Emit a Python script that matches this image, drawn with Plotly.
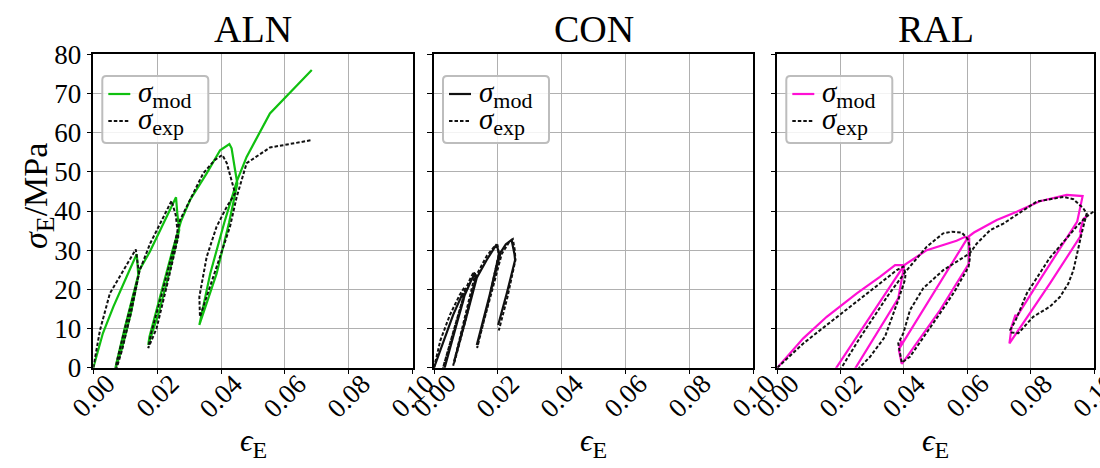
import plotly.graph_objects as go

# ---- strain / stress data (eps in -, sigma in MPa) ----
aln_mod_eps = [0, 0.0030, 0.0063, 0.0094, 0.0115, 0.0136, 0.0141, 0.0118, 0.0090, 0.0068,
               0.0072, 0.0098, 0.0125, 0.0145, 0.0177, 0.0219, 0.0259, 0.0263, 0.0269, 0.0240,
               0.0205, 0.0172, 0.0176, 0.0212, 0.0248, 0.0275, 0.0303, 0.0355, 0.0397, 0.0426,
               0.0433, 0.0444, 0.0451, 0.0425, 0.0386, 0.0332, 0.0366, 0.0410, 0.0449, 0.0480,
               0.0553, 0.0684]
aln_mod_sig = [0, 8.8, 15.6, 21.5, 25.2, 29.0, 23.5, 14.0, 5.0, -0.6,
               1.0, 10.0, 19.0, 25.0, 29.6, 36.8, 43.5, 39.4, 35.1, 25.0,
               14.0, 5.8, 8.0, 19.0, 30.0, 37.5, 42.8, 49.6, 55.5, 57.1,
               56.0, 50.4, 47.0, 37.0, 24.0, 10.9, 24.0, 37.0, 47.5, 53.8,
               64.9, 76.0]

aln_exp_eps = [0, 0.0021, 0.0052, 0.0094, 0.0133, 0.0140, 0.0143, 0.0118, 0.0090, 0.0065,
               0.0075, 0.0102, 0.0130, 0.0146, 0.0178, 0.0219, 0.0245, 0.0258, 0.0266, 0.0232,
               0.0198, 0.0172, 0.0180, 0.0215, 0.0250, 0.0271, 0.0344, 0.0380, 0.0404, 0.0418,
               0.0436, 0.0444, 0.0418, 0.0386, 0.0355, 0.0332, 0.0334, 0.0386, 0.0428, 0.0449,
               0.0480, 0.0553, 0.0620, 0.0684]
aln_exp_sig = [0, 9.6, 19.0, 24.9, 30.2, 26.0, 24.0, 14.0, 4.5, -2.3,
               2.0, 11.0, 20.0, 25.0, 31.7, 38.5, 42.6, 39.0, 33.4, 21.5,
               10.0, 5.0, 8.5, 19.0, 30.0, 37.6, 49.6, 53.0, 54.3, 52.2,
               47.0, 44.5, 41.1, 36.0, 28.3, 18.1, 13.0, 25.8, 36.0, 43.6,
               52.2, 56.2, 57.2, 58.1]

con_mod_eps = [0, 0.0030, 0.0060, 0.0090, 0.0093, 0.0060, 0.0030, 0.0034, 0.0065, 0.0096,
               0.0115, 0.0128, 0.0131, 0.0098, 0.0063, 0.0068, 0.0100, 0.0134, 0.0165, 0.0196,
               0.0204, 0.0170, 0.0134, 0.0138, 0.0175, 0.0209, 0.0225, 0.0243, 0.0252, 0.0254,
               0.0228, 0.0201]
con_mod_sig = [0, 7.0, 13.5, 19.0, 17.5, 8.0, -1.0, 0.0, 9.0, 18.5,
               22.0, 24.1, 22.5, 12.0, 1.5, 2.5, 12.5, 23.0, 27.5, 31.5,
               29.0, 17.0, 5.8, 7.5, 19.0, 29.5, 31.5, 32.6, 29.0, 27.5,
               19.0, 10.9]

con_exp_eps = [0, 0.0020, 0.0050, 0.0080, 0.0095, 0.0097, 0.0060, 0.0022, 0.0028, 0.0062,
               0.0099, 0.0115, 0.0125, 0.0128, 0.0095, 0.0060, 0.0066, 0.0100, 0.0132, 0.0165,
               0.0190, 0.0199, 0.0203, 0.0170, 0.0135, 0.0140, 0.0178, 0.0212, 0.0235, 0.0247,
               0.0253, 0.0255, 0.0230, 0.0203]
con_exp_sig = [0, 7.0, 13.5, 18.5, 20.5, 19.5, 9.0, -1.8, -0.5, 9.5,
               20.0, 23.0, 24.5, 23.5, 12.5, 0.5, 2.0, 12.5, 23.5, 28.5,
               31.0, 31.2, 29.0, 16.5, 5.0, 7.0, 18.5, 29.0, 32.0, 32.8,
               30.0, 27.5, 18.0, 9.5]

ral_mod_eps = [0, 0.0082, 0.0156, 0.0251, 0.0324, 0.0372, 0.0401, 0.0382, 0.0188, 0.0161,
               0.0161, 0.0401, 0.0472, 0.0514, 0.0566, 0.0593, 0.0606, 0.0605, 0.0514, 0.0398,
               0.0393, 0.0384, 0.0392, 0.0386, 0.0603, 0.0621, 0.0693, 0.0756, 0.0829, 0.0914,
               0.0964, 0.0947, 0.0829, 0.0756, 0.0752, 0.0740, 0.0733, 0.0861, 0.0956, 0.0962,
               0.0955, 0.0966, 0.0982]
ral_mod_sig = [0, 7.5, 13.0, 19.0, 23.2, 26.2, 26.2, 17.7, -7.8, -7.8,
               -3.1, 26.2, 30.0, 31.0, 32.4, 33.4, 33.0, 26.6, 14.7, 1.5,
               1.0, 4.5, 7.0, 5.0, 33.4, 34.5, 37.7, 39.8, 42.5, 44.1,
               43.8, 37.3, 22.4, 13.0, 13.5, 10.5, 6.2, 21.5, 33.4, 35.5,
               34.5, 37.9, 39.0]

ral_exp_eps = [0, 0.0082, 0.0156, 0.0251, 0.0324, 0.0377, 0.0398, 0.0405, 0.0403, 0.0382,
               0.0340, 0.0293, 0.0230, 0.0188, 0.0175, 0.0172, 0.0260, 0.0350, 0.0405, 0.0472,
               0.0524, 0.0551, 0.0582, 0.0600, 0.0608, 0.0608, 0.0604, 0.0598, 0.0560, 0.0514,
               0.0460, 0.0419, 0.0393, 0.0382, 0.0390, 0.0398, 0.0419, 0.0461, 0.0524, 0.0608,
               0.0630, 0.0672, 0.0714, 0.0777, 0.0819, 0.0903, 0.0935, 0.0966, 0.0977, 0.0961,
               0.0945, 0.0935, 0.0919, 0.0893, 0.0861, 0.0808, 0.0761, 0.0740, 0.0735, 0.0752,
               0.0788, 0.0860, 0.0945, 0.0975, 0.0998]
ral_exp_sig = [0, 6.2, 10.9, 16.8, 21.5, 24.9, 25.8, 24.0, 22.4, 17.3,
               7.9, 2.8, -2.3, -5.7, -7.0, -4.0, 7.5, 18.5, 24.5, 30.9,
               34.3, 34.7, 34.5, 33.0, 30.9, 27.9, 25.8, 24.9, 19.5, 13.9,
               7.5, 2.8, 1.3, 6.2, 7.5, 8.8, 14.7, 20.3, 24.9, 29.2,
               31.7, 35.1, 36.8, 40.2, 42.4, 43.6, 43.0, 40.7, 39.4, 34.3,
               28.3, 24.9, 21.5, 18.1, 15.6, 13.0, 8.8, 9.0, 9.6, 12.0,
               19.0, 28.0, 36.0, 38.5, 39.8]

panel_names = ["ALN", "CON", "RAL"]
panel_colors = ["#10c010", "#111111", "#ff10d4"]
x_ticks = [0.00, 0.02, 0.04, 0.06, 0.08, 0.10]
x_tick_labels = ["0.00", "0.02", "0.04", "0.06", "0.08", "0.10"]
y_ticks = [0, 10, 20, 30, 40, 50, 60, 70, 80]
legend_labels = [
    "<i>σ</i><sub><span style='font-size:22px'>mod</span></sub>",
    "<i>σ</i><sub><span style='font-size:22px'>exp</span></sub>",
]
x_title = "<i>ϵ</i><sub><span style='font-size:24px'>E</span></sub>"
y_title = "<i>σ</i><sub><span style='font-size:26px'>E</span></sub>/MPa"

series = [
    (aln_mod_eps, aln_mod_sig, aln_exp_eps, aln_exp_sig),
    (con_mod_eps, con_mod_sig, con_exp_eps, con_exp_sig),
    (ral_mod_eps, ral_mod_sig, ral_exp_eps, ral_exp_sig),
]

W, H = 1100, 468
FONT = "Liberation Serif"
DASH = "3.5px,2px"
x_domains = [(93.3, 412.7), (434.0, 753.3), (777.3, 1094.0)]
y_domain = [1 - 367.7 / H, 1 - 54.3 / H]


def px(x):
    return x / W


def py(y):
    return 1 - y / H


def rounded_box(x0, y0, x1, y1, r):
    # rounded rectangle path in paper coordinates (input in pixels)
    pts = [
        f"M{px(x0 + r)},{py(y0)}", f"L{px(x1 - r)},{py(y0)}",
        f"Q{px(x1)},{py(y0)} {px(x1)},{py(y0 + r)}", f"L{px(x1)},{py(y1 - r)}",
        f"Q{px(x1)},{py(y1)} {px(x1 - r)},{py(y1)}", f"L{px(x0 + r)},{py(y1)}",
        f"Q{px(x0)},{py(y1)} {px(x0)},{py(y1 - r)}", f"L{px(x0)},{py(y0 + r)}",
        f"Q{px(x0)},{py(y0)} {px(x0 + r)},{py(y0)}", "Z",
    ]
    return " ".join(pts)


fig = go.Figure()
layout = dict(
    width=W, height=H,
    margin=dict(l=0, r=0, t=0, b=0, autoexpand=False),
    paper_bgcolor="white", plot_bgcolor="white",
    font=dict(family=FONT, size=22, color="black"),
    showlegend=False,
)

annotations = []
shapes = []
for i, (name, color, (me, ms, ee, es)) in enumerate(zip(panel_names, panel_colors, series)):
    n = "" if i == 0 else str(i + 1)
    xa, ya = "x" + n, "y" + n
    fig.add_trace(go.Scatter(x=me, y=ms, mode="lines", xaxis=xa, yaxis=ya,
                             name="σ_mod", line=dict(color=color, width=2.2)))
    fig.add_trace(go.Scatter(x=ee, y=es, mode="lines", xaxis=xa, yaxis=ya,
                             name="σ_exp", line=dict(color="#111111", width=2.0, dash=DASH)))

    x0, x1 = x_domains[i]
    layout["xaxis" + n] = dict(
        domain=[x0 / W, x1 / W], range=[0, 0.1], anchor=ya, automargin=False,
        tickvals=x_ticks, showticklabels=False,
        ticks="outside", ticklen=5, tickwidth=1.2, tickcolor="black",
        showline=True, linecolor="black", linewidth=1.5, mirror=True,
        showgrid=True, gridcolor="#b0b0b0", gridwidth=1, zeroline=False,
    )
    layout["yaxis" + n] = dict(
        domain=y_domain, range=[0, 80], anchor=xa, automargin=False,
        tickvals=y_ticks, showticklabels=(i == 0),
        tickfont=dict(family=FONT, size=27),
        ticks="outside", ticklen=5, tickwidth=1.2, tickcolor="black",
        showline=True, linecolor="black", linewidth=1.5, mirror=True,
        showgrid=True, gridcolor="#b0b0b0", gridwidth=1, zeroline=False,
    )

    # legend box with line samples and labels
    lx = x0 + 9
    shapes.append(dict(type="path", path=rounded_box(lx, 76, lx + 106, 143, 4),
                       xref="paper", yref="paper",
                       line=dict(color="#bdbdbd", width=2),
                       fillcolor="rgba(255,255,255,0.85)", layer="above"))
    for row, (yy, dash, col) in enumerate([(94, "solid", color), (121, DASH, "#111111")]):
        shapes.append(dict(type="line", xref="paper", yref="paper",
                           x0=px(lx + 6), x1=px(lx + 28), y0=py(yy), y1=py(yy),
                           line=dict(color=col, width=2.2, dash=dash), layer="above"))
        annotations.append(dict(text=legend_labels[row], x=px(lx + 34), y=py(yy + 1),
                                xref="paper", yref="paper", showarrow=False,
                                xanchor="left", yanchor="middle",
                                font=dict(family=FONT, size=29)))

    # panel title
    annotations.append(dict(text=name, x=px((x0 + x1) / 2), y=py(29),
                            xref="paper", yref="paper", showarrow=False,
                            xanchor="center", yanchor="middle",
                            font=dict(family=FONT, size=38)))
    # strain axis label
    annotations.append(dict(text=x_title, x=px((x0 + x1) / 2), y=py(443),
                            xref="paper", yref="paper", showarrow=False,
                            xanchor="center", yanchor="middle",
                            font=dict(family=FONT, size=31)))
    # rotated strain tick labels, centred under each tick
    for v, lab in zip(x_ticks, x_tick_labels):
        annotations.append(dict(text=lab, x=v, xref=xa, y=py(396), yref="paper",
                                showarrow=False, textangle=-45,
                                xanchor="center", yanchor="middle",
                                font=dict(family=FONT, size=27)))

annotations.append(dict(text=y_title, x=px(38), y=py(196),
                        xref="paper", yref="paper", showarrow=False, textangle=-90,
                        xanchor="center", yanchor="middle",
                        font=dict(family=FONT, size=34)))
layout["annotations"] = annotations
layout["shapes"] = shapes

fig.update_layout(**layout)
fig.write_html("out.html")
